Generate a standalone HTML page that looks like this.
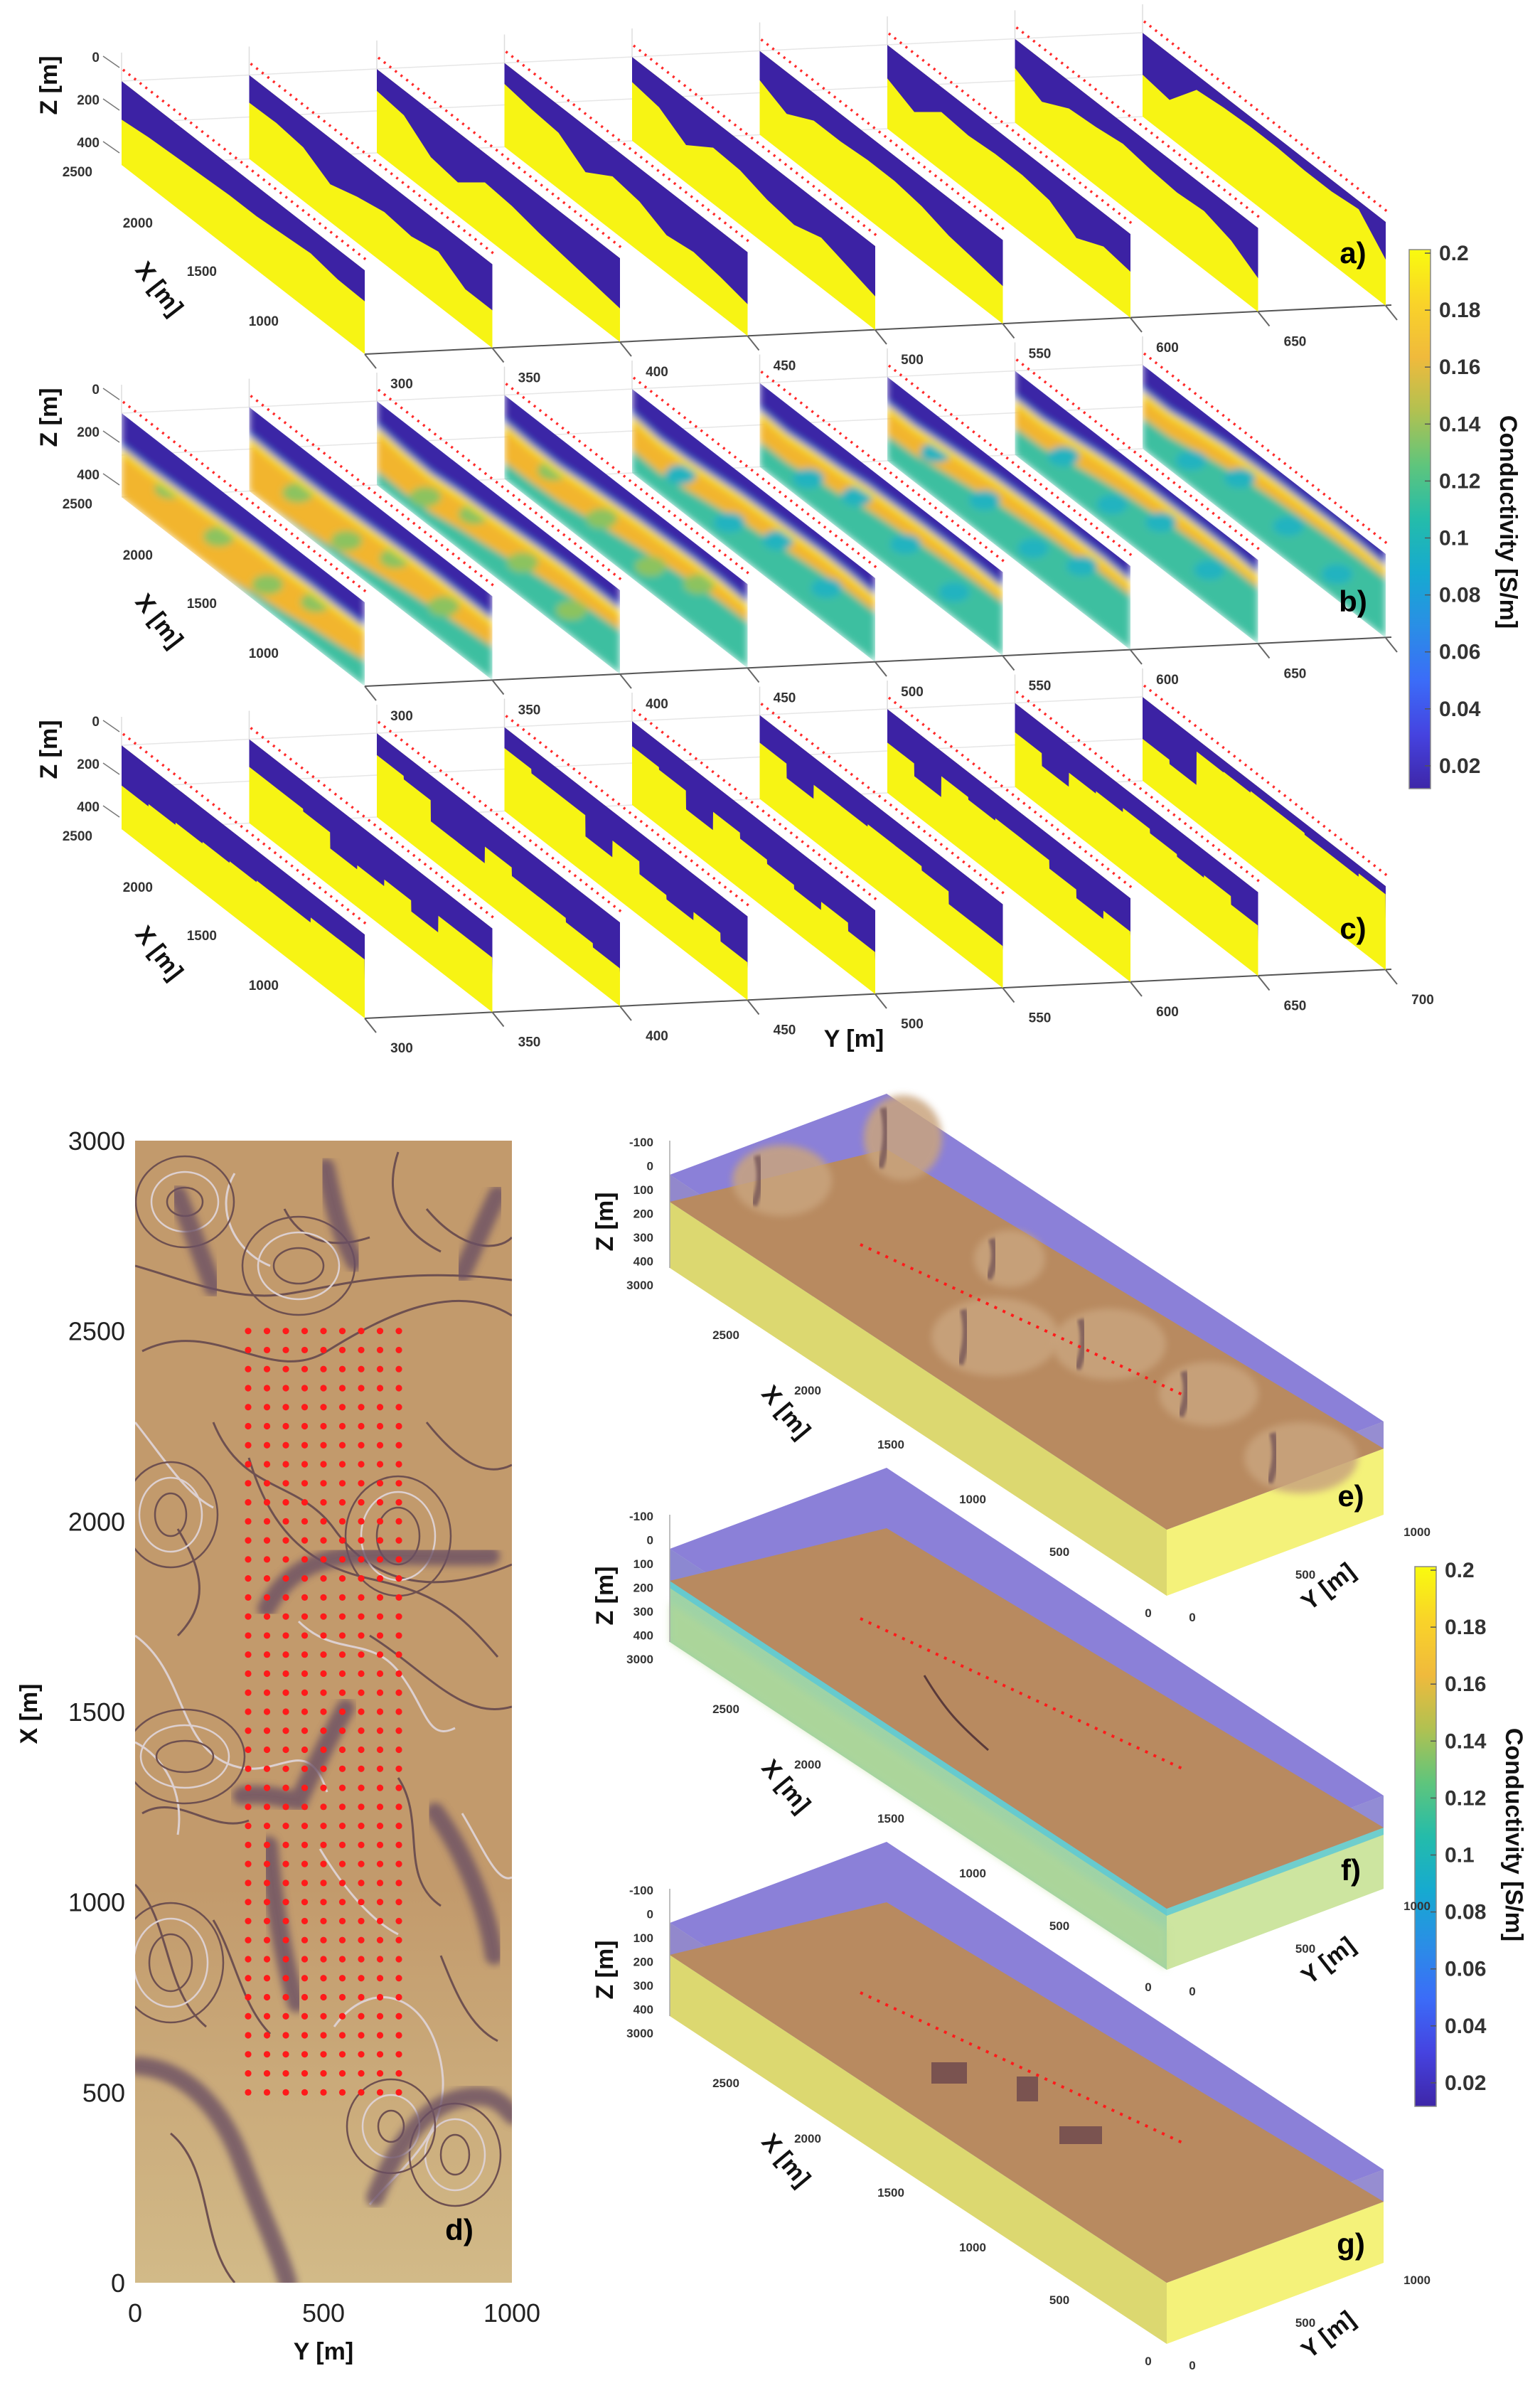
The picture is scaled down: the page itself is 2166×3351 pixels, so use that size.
<!DOCTYPE html>
<html><head><meta charset="utf-8">
<style>
html,body{margin:0;padding:0;background:#fff;}
svg{display:block;font-family:"Liberation Sans",sans-serif;}
.tk{font-size:19px;font-weight:bold;fill:#333;}
.tk2{font-size:17px;font-weight:bold;fill:#333;}
.ax{font-size:34px;font-weight:bold;fill:#111;}
.pl{font-size:42px;font-weight:bold;fill:#000;}
.cb{font-size:30px;font-weight:bold;fill:#333;}
.dl{font-size:36px;fill:#222;}
</style></head>
<body>
<svg id="fig" width="2166" height="3351" viewBox="0 0 2166 3351" xmlns="http://www.w3.org/2000/svg">
<defs>
<linearGradient id="parula" x1="0" y1="1" x2="0" y2="0">
<stop offset="0" stop-color="#3e26a8"/><stop offset="0.1" stop-color="#4543e0"/><stop offset="0.2" stop-color="#3b6cf8"/>
<stop offset="0.3" stop-color="#2a8ee6"/><stop offset="0.4" stop-color="#16aad0"/><stop offset="0.5" stop-color="#24bcaa"/>
<stop offset="0.6" stop-color="#5fc57c"/><stop offset="0.7" stop-color="#b1c151"/><stop offset="0.8" stop-color="#f0ba3c"/>
<stop offset="0.9" stop-color="#f9d329"/><stop offset="1" stop-color="#f9fb0e"/>
</linearGradient>
<linearGradient id="mapLight" x1="0" y1="0" x2="0" y2="1">
<stop offset="0" stop-color="#d2ba88" stop-opacity="0"/><stop offset="1" stop-color="#d2ba88" stop-opacity="1"/>
</linearGradient>
<filter id="blur4"><feGaussianBlur stdDeviation="5"/></filter>
<filter id="blur2"><feGaussianBlur stdDeviation="2"/></filter>
<filter id="blur8"><feGaussianBlur stdDeviation="8"/></filter>
</defs>
<g id="topSlices"></g>
<g id="mapd"></g>
<g id="boxes"></g>
</svg>
<script>
var NS="http://www.w3.org/2000/svg";
// ---------- data ----------
var yTicksTop=[300,350,400,450,500,550,600,650];
var yTicksC=[300,350,400,450,500,550,600,650,700];
var zTicks=["0","200","400","2500"];
var xTicks=["2000","1500","1000"];
var profA=[
[0.46,0.42,0.4,0.38,0.36,0.36,0.33,0.3,0.36,0.37],
[0.33,0.32,0.36,0.55,0.45,0.38,0.42,0.35,0.55,0.55],
[0.26,0.3,0.55,0.6,0.35,0.38,0.45,0.5,0.55,0.6],
[0.25,0.3,0.33,0.55,0.35,0.4,0.55,0.5,0.55,0.62],
[0.3,0.35,0.55,0.33,0.35,0.45,0.5,0.4,0.5,0.6],
[0.35,0.5,0.33,0.33,0.3,0.3,0.35,0.45,0.5,0.55],
[0.4,0.55,0.3,0.33,0.3,0.3,0.35,0.55,0.4,0.45],
[0.35,0.5,0.33,0.3,0.25,0.3,0.33,0.3,0.4,0.6],
[0.5,0.55,0.18,0.14,0.12,0.12,0.14,0.14,0.1,0.45]];
var profB=[
[0.38,0.38,0.36,0.34,0.32,0.3,0.3,0.28,0.28,0.27],
[0.32,0.33,0.33,0.32,0.3,0.28,0.26,0.25,0.25,0.25],
[0.28,0.32,0.34,0.3,0.28,0.25,0.22,0.2,0.2,0.2],
[0.3,0.32,0.32,0.28,0.25,0.22,0.2,0.18,0.18,0.2],
[0.28,0.32,0.3,0.26,0.22,0.2,0.18,0.16,0.16,0.18],
[0.3,0.32,0.28,0.25,0.2,0.18,0.16,0.15,0.15,0.16],
[0.3,0.3,0.26,0.22,0.18,0.16,0.14,0.14,0.13,0.15],
[0.3,0.3,0.25,0.2,0.16,0.14,0.13,0.12,0.12,0.14],
[0.28,0.28,0.22,0.17,0.14,0.12,0.11,0.1,0.1,0.12]];
var tealB=[0.85,0.7,0.55,0.5,0.45,0.4,0.4,0.38,0.35];
var profC=[
[0.48,0.45,0.42,0.4,0.38,0.36,0.36,0.3,0.3,0.55],
[0.33,0.33,0.36,0.55,0.5,0.42,0.55,0.35,0.35,0.55],
[0.26,0.3,0.55,0.55,0.35,0.45,0.45,0.5,0.55,0.6],
[0.25,0.3,0.3,0.55,0.35,0.5,0.55,0.45,0.55,0.62],
[0.3,0.33,0.55,0.33,0.4,0.45,0.5,0.4,0.5,0.6],
[0.33,0.5,0.33,0.33,0.3,0.3,0.35,0.5,0.5,0.55],
[0.4,0.55,0.3,0.33,0.3,0.3,0.4,0.5,0.4,0.45],
[0.35,0.5,0.33,0.3,0.25,0.3,0.33,0.3,0.4,0.6],
[0.5,0.55,0.15,0.14,0.12,0.12,0.14,0.14,0.1,0.4]];
var cbTicks=["0.2","0.18","0.16","0.14","0.12","0.1","0.08","0.06","0.04","0.02"];
var dXTicks=[0,500,1000,1500,2000,2500,3000];
var dYTicks=[0,500,1000];
var dotY=[300,350,400,450,500,550,600,650,700];
var dotX=[500,550,600,650,700,750,800,850,900,950,1000,1050,1100,1150,1200,1250,1300,1350,1400,1450,1500,1550,1600,1650,1700,1750,1800,1850,1900,1950,2000,2050,2100,2150,2200,2250,2300,2350,2400,2450,2500];
var boxZTicks=["-100","0","100","200","300","400","3000"];
var boxXTicks=["2500","2000","1500","1000","500"];
var boxYTicks=["0","500","1000"];

function mk(tag,attrs,parent,text){var e=document.createElementNS(NS,tag);for(var k in attrs)e.setAttribute(k,attrs[k]);if(text!==undefined)e.textContent=text;parent.appendChild(e);return e;}
function pts(a){return a.map(function(p){return p[0].toFixed(1)+","+p[1].toFixed(1)}).join(" ");}
function dn(p,d){return [p[0],p[1]+d];}

// ---------- panels a,b,c ----------
var topG=document.getElementById('topSlices');
var SW=342,SD=266,SH=118;
function sx0(i){return 171+i*179.5;}
function sy0(i,row){return 114-i*8.5+row*467;}
function P(i,row,u,v){return [sx0(i)+u*SW, sy0(i,row)+u*SD+v*SH];}
var rowNames=["a","b","c"];
for(var row=0;row<3;row++){
  var g=mk('g',{},topG);
  
  
  var nS=9;
  var ax=mk('line',{x1:P(0,row,1,1)[0],y1:P(0,row,1,1)[1],x2:P(8,row,1,1)[0]+8,y2:P(8,row,1,1)[1]-1,stroke:'#555','stroke-width':2},g);
  
  
  for(var gz=0;gz<3;gz++){
    var gl=mk('line',{x1:P(0,row,0,gz*0.5)[0],y1:P(0,row,0,gz*0.5)[1],x2:P(8,row,0,gz*0.5)[0],y2:P(8,row,0,gz*0.5)[1],stroke:'#e6e6e6','stroke-width':1.5},g);
    
    
  }
  for(var i=0;i<nS;i++){
    var sg=mk('g',{},g);
    
    
    var outline=[P(i,row,0,0),P(i,row,1,0),P(i,row,1,1),P(i,row,0,1)];
    var cid='clip'+row+'_'+i;
    var cp=mk('clipPath',{id:cid},sg);mk('polygon',{points:pts(outline)},cp);
    var inner=mk('g',{'clip-path':'url(#'+cid+')'},sg);
    var n=10;
    if(row===0||row===2){
      mk('polygon',{points:pts(outline),fill:'#f7f414'},inner);
      var pr=row===0?profA[i]:profC[i];
      var bl=[];for(var k=0;k<n;k++)bl.push(P(i,row,k/(n-1),0));
      for(var k=n-1;k>=0;k--){
        var u=k/(n-1);
        if(row===2&&k<n-1){bl.push(P(i,row,(k+1)/(n-1)-0.001,pr[k]));}
        bl.push(P(i,row,u,pr[k]));
      }
      var bp=mk('polygon',{points:pts(bl),fill:'#3c22a4'},inner);
      
      
    } else {
      var bg=mk('g',{filter:'url(#blur4)'},inner);
      mk('polygon',{points:pts(outline),fill:'#3cbfa0'},bg);
      var pr=profB[i];
      var oz=[];for(var k=0;k<n;k++)oz.push(P(i,row,k/(n-1),0));
      for(var k=n-1;k>=0;k--){var u=k/(n-1);oz.push(P(i,row,u,Math.min(1,pr[k]+tealB[i]*(1-u*0.5))));}
      mk('polygon',{points:pts(oz),fill:'#f2b52e'},bg);
      for(var b=0;b<4;b++){
        var c=P(i,row,0.2+0.2*b,0.45+0.12*((b+i)%3));
        mk('ellipse',{cx:c[0],cy:c[1],rx:22,ry:14,fill:(i>3?'#22b3c0':'#8cc35e')},bg);
      }
      var yz=[];for(var k=0;k<n;k++)yz.push(P(i,row,k/(n-1),0));
      for(var k=n-1;k>=0;k--){yz.push(P(i,row,k/(n-1),pr[k]+0.12));}
      mk('polygon',{points:pts(yz),fill:'#f8dc24'},bg);
      var bz=[];for(var k=0;k<n;k++)bz.push(P(i,row,k/(n-1),0));
      for(var k=n-1;k>=0;k--){bz.push(P(i,row,k/(n-1),pr[k]+0.03));}
      mk('polygon',{points:pts(bz),fill:'#3f7ee8'},bg);
      var bz2=[];for(var k=0;k<n;k++)bz2.push(P(i,row,k/(n-1),-0.1));
      for(var k=n-1;k>=0;k--){bz2.push(P(i,row,k/(n-1),pr[k]-0.02));}
      var bp=mk('polygon',{points:pts(bz2),fill:'#3b25a6'},bg);
      
      
    }
    var a0=P(i,row,0,0),a1=P(i,row,1,0);
    var rl=mk('line',{x1:a0[0]+2,y1:a0[1]-16,x2:a1[0]+3,y2:a1[1]-14,stroke:'#ff2a2a','stroke-width':3.5,'stroke-dasharray':'3 7'},sg);
    
    
    var br=P(i,row,1,1);
    var tkl=mk('line',{x1:br[0],y1:br[1],x2:br[0]+16,y2:br[1]+20,stroke:'#666','stroke-width':2},sg);
    
    
    var vl=mk('line',{x1:a0[0],y1:a0[1]-40,x2:a0[0],y2:a0[1],stroke:'#ddd','stroke-width':1.5},sg);
    
    
  }
  var labs=row===2?yTicksC:yTicksTop;
  for(var i=0;i<labs.length;i++){
    var br=P(i,row,1,1);
    var t=mk('text',{x:br[0]+52,y:br[1]+48,'text-anchor':'middle','class':'tk'},g,String(labs[i]));
    
    
  }
  var zy=[87,147,207,248];var zx=[140,140,140,130];
  for(var k=0;k<zTicks.length;k++){
    var t=mk('text',{x:zx[k],y:zy[k]+row*467,'text-anchor':'end','class':'tk'},g,zTicks[k]);
    
    
    if(k<3){var l=mk('line',{x1:zx[k]+5,y1:zy[k]-8+row*467,x2:zx[k]+28,y2:zy[k]+8+row*467,stroke:'#777','stroke-width':1.5},g);
      
      }
  }
  var xy=[[215,320],[305,388],[392,458]];
  for(var k=0;k<3;k++){
    var t=mk('text',{x:xy[k][0],y:xy[k][1]+row*467,'text-anchor':'end','class':'tk'},g,xTicks[k]);
    
    
  }
  var zt=mk('text',{x:0,y:0,'class':'ax',transform:'translate(80,'+(120+row*467)+') rotate(-90)','text-anchor':'middle'},g,'Z [m]');
  
  
  var xt=mk('text',{x:0,y:0,'class':'ax',transform:'translate(215,'+(413+row*467)+') rotate(52)','text-anchor':'middle'},g,'X [m]');
  
  
  var pl=mk('text',{x:1903,y:[370,860,1320][row],'class':'pl','text-anchor':'middle'},g,rowNames[row]+')');
  
  
}
var yt=mk('text',{x:1201,y:1472,'class':'ax','text-anchor':'middle'},topG,'Y [m]');



function colorbar(x,y0,y1,tickTop,tickStep,labelY){
  var g=mk('g',{},topG);
  
  
  var r=mk('rect',{x:x,y:y0,width:30,height:y1-y0,fill:'url(#parula)',stroke:'#888','stroke-width':1.5},g);
  
  
  for(var k=0;k<cbTicks.length;k++){
    var ty=tickTop+k*tickStep;
    var tl=mk('line',{x1:x+22,y1:ty,x2:x+30,y2:ty,stroke:'#555','stroke-width':1.5},g);
    
    
    var t=mk('text',{x:x+42,y:ty+10,'class':'cb'},g,cbTicks[k]);
    
    
  }
  var ct=mk('text',{x:0,y:0,'class':'ax',transform:'translate('+(x+128)+','+labelY+') rotate(90)','text-anchor':'middle'},g,'Conductivity [S/m]');
  
  
}
colorbar(1982,351,1109,356,80.1,734);
colorbar(1990,2203,2962,2208,80.1,2580);

// ---------- panel d ----------
var md=document.getElementById('mapd');


var mL=190,mR=720,mT=1604,mB=3210;
function mxY(y){return mL+(y/1000)*(mR-mL);}
function myX(x){return mB-(x/3000)*(mB-mT);}
var cpm=mk('clipPath',{id:'mclip'},md);mk('rect',{x:mL,y:mT,width:mR-mL,height:mB-mT},cpm);
var mg=mk('g',{'clip-path':'url(#mclip)'},md);
var bgr=mk('rect',{x:mL,y:mT,width:mR-mL,height:mB-mT,fill:'#c29a6c'},mg);


mk('rect',{x:mL,y:2650,width:mR-mL,height:560,fill:'url(#mapLight)'},mg);
var thin=["M200 1900 C300 1850 380 1950 460 1900 S640 1800 720 1850","M300 2000 C340 2100 420 2080 470 2150 S600 2250 720 2200",
"M190 2300 C260 2350 250 2450 320 2480 S430 2430 460 2520","M520 2300 C600 2350 650 2420 720 2400","M190 2650 C240 2700 230 2800 290 2850",
"M470 2850 C520 2780 600 2800 620 2900 S560 3050 520 3100","M240 3000 C300 3050 280 3150 330 3210","M600 1700 C650 1760 700 1760 720 1740",
"M330 1650 C300 1700 330 1760 380 1780","M250 2150 C280 2200 300 2250 250 2300","M560 2500 C600 2560 560 2640 620 2680",
"M420 2280 C470 2330 520 2300 560 2350 S600 2450 640 2430","M200 2550 C250 2520 300 2580 350 2560",
"M190 1780 C260 1800 330 1830 400 1820 S560 1780 720 1800","M190 2000 C230 2050 260 2100 300 2120","M560 1620 C540 1680 560 1730 620 1760",
"M350 2050 C380 2150 430 2200 520 2220 S640 2260 700 2330","M450 2600 C480 2650 520 2700 560 2720","M300 2700 C330 2750 340 2820 380 2860",
"M620 2750 C640 2800 660 2850 700 2870","M190 2450 C230 2470 260 2520 250 2580","M600 2000 C640 2050 680 2080 720 2060",
"M400 1700 C420 1740 460 1760 520 1740","M650 2550 C680 2600 700 2650 720 2640"];
for(var k=0;k<thin.length;k++){
  var p=mk('path',{d:thin[k],fill:'none',stroke:(k%3===2?'#ddd0d0':'#6e5050'),'stroke-width':3},mg);
  
  
}
var rings=[[240,2130,22,30],[260,1690,25,20],[560,2160,30,40],[260,2470,40,22],[640,3030,20,28],[550,2990,18,22],[240,2760,30,40],[420,1780,35,25]];
for(var k=0;k<rings.length;k++){
  for(var m=0;m<3;m++){
    var e=mk('ellipse',{cx:rings[k][0],cy:rings[k][1],rx:rings[k][2]+m*22,ry:rings[k][3]+m*22,fill:'none',stroke:(m%2?'#ddd0d0':'#6e5050'),'stroke-width':2.5},mg);
    
    
  }
}
var thick=["M250 1680 C270 1730 285 1770 300 1810","M458 1642 C470 1700 480 1740 500 1775","M700 1680 C680 1720 665 1760 650 1790",
"M375 2262 C400 2215 440 2190 500 2188 S620 2190 690 2188","M340 2525 C370 2520 400 2530 420 2532 C440 2490 465 2440 486 2402",
"M378 2595 C385 2680 400 2760 417 2817","M612 2548 C650 2600 685 2680 695 2750","M194 2905 C260 2910 310 2960 340 3040 S390 3160 405 3210",
"M528 3090 C560 3010 600 2960 650 2950 S710 2965 722 2975"];
for(var k=0;k<thick.length;k++){
  var p=mk('path',{d:thick[k],fill:'none',stroke:'#6b5063','stroke-width':26,'stroke-linecap':'round',opacity:0.8,filter:'url(#blur4)'},mg);
  
  
}
var dg=mk('g',{},md);


for(var a=0;a<dotX.length;a++)for(var b=0;b<dotY.length;b++){
  var c=mk('circle',{cx:mxY(dotY[b]),cy:myX(dotX[a]),r:4.6,fill:'#ff1a1a'},dg);
  
  
}
for(var k=0;k<dXTicks.length;k++){
  var t=mk('text',{x:176,y:myX(dXTicks[k])+13,'text-anchor':'end','class':'dl'},md,String(dXTicks[k]));
  
  
}
for(var k=0;k<dYTicks.length;k++){
  var t=mk('text',{x:mxY(dYTicks[k]),y:3265,'text-anchor':'middle','class':'dl'},md,String(dYTicks[k]));
  
  
}
var t=mk('text',{x:455,y:3318,'text-anchor':'middle','class':'ax'},md,'Y [m]');


t=mk('text',{x:0,y:0,'class':'ax',transform:'translate(52,2410) rotate(-90)','text-anchor':'middle'},md,'X [m]');


t=mk('text',{x:646,y:3150,'text-anchor':'middle','class':'pl'},md,'d)');



// ---------- panels e,f,g ----------
var bx=document.getElementById('boxes');
var boxNames=["e","f","g"];
var sideCols=[["#dcd870","#f4f27a"],["#9fd3a6","#cde5a0"],["#dcd870","#f4f27a"]];
for(var q=0;q<3;q++){
  var oy=q*526;
  var g=mk('g',{},bx);
  
  
  var A=[942,1652+oy],B=[1247,1538+oy],C=[1946,1999+oy],D=[A[0]+C[0]-B[0],A[1]+C[1]-B[1]];
  var h=131,s=q===0?38:45;
  var lf=mk('polygon',{points:pts([A,D,dn(D,h),dn(A,h)]),fill:sideCols[q][0]},g);
  
  
  var ff=mk('polygon',{points:pts([D,C,dn(C,h),dn(D,h)]),fill:sideCols[q][1]},g);
  
  
  if(q===1){
    mk('polygon',{points:pts([dn(A,s),dn(D,s),dn(D,s+10),dn(A,s+10)]),fill:'#58c8d8',opacity:0.8},g);
    mk('polygon',{points:pts([dn(D,s),dn(C,s),dn(C,s+10),dn(D,s+10)]),fill:'#58c8d8',opacity:0.8},g);
    mk('polygon',{points:pts([dn(A,s+30),dn(D,s+30),dn(D,h),dn(A,h)]),fill:'#b8d890',opacity:0.5,filter:'url(#blur4)'},g);
  }
  mk('polygon',{points:pts([A,D,dn(D,s),dn(A,s)]),fill:'#8a7fd6',opacity:0.9},g);
  mk('polygon',{points:pts([D,C,dn(C,s),dn(D,s)]),fill:'#8c82da',opacity:0.9},g);
  var tp=mk('polygon',{points:pts([A,B,C,D]),fill:'#8b80d8'},g);
  
  
  var sf=mk('polygon',{points:pts([dn(A,s),[B[0],B[1]+s+40],[C[0],C[1]+s],dn(D,s)]),fill:'#b88a60'},g);
  
  
  if(q===0){
    var hills=[[1100,1660,70,50],[1270,1600,55,60],[1420,1770,50,40],[1400,1880,90,55],[1560,1890,80,50],[1700,1960,70,45],[1830,2050,80,50]];
    for(var k=0;k<hills.length;k++){
      var e=mk('ellipse',{cx:hills[k][0],cy:hills[k][1],rx:hills[k][2],ry:hills[k][3],fill:'#c9a47e',opacity:0.85,filter:'url(#blur4)'},g);
      
      
      var sh=mk('path',{d:'M'+(hills[k][0]-hills[k][2]*0.5)+' '+(hills[k][1]-hills[k][3]*0.7)+' q 10 '+(hills[k][3]*0.7)+' '+(-5)+' '+(hills[k][3]*1.4),fill:'none',stroke:'#6e4f55','stroke-width':10,opacity:0.75,filter:'url(#blur2)'},g);
      
      
    }
  } else if(q===1){
    var cr=mk('path',{d:'M1300 '+(1830+oy)+' C1330 '+(1880+oy)+' 1350 '+(1900+oy)+' 1390 '+(1935+oy),fill:'none',stroke:'#5a3a3a','stroke-width':3},g);
    
    
  } else {
    var blk=[[1310,2900,50,30],[1430,2920,30,35],[1490,2990,60,25]];
    for(var k=0;k<blk.length;k++){
      var r=mk('rect',{x:blk[k][0],y:blk[k][1],width:blk[k][2],height:blk[k][3],fill:'#7a5350'},g);
      
      
    }
  }
  var rl=mk('line',{x1:1210,y1:1750+oy,x2:1665,y2:1962+oy,stroke:'#ff1a1a','stroke-width':4,'stroke-dasharray':'4 9'},g);
  
  
  var zl=mk('line',{x1:A[0],y1:1604+oy,x2:A[0],y2:A[1]+h,stroke:'#aaa','stroke-width':1.5},g);
  
  
  for(var k=0;k<boxZTicks.length;k++){
    var ty=1606+oy+k*33.5;
    var t=mk('text',{x:919,y:ty+6,'text-anchor':'end','class':'tk2'},g,boxZTicks[k]);
    
    
  }
  var t=mk('text',{x:0,y:0,'class':'ax',transform:'translate(862,'+(1718+oy)+') rotate(-90)','text-anchor':'middle'},g,'Z [m]');
  
  
  var xpos=[[1021,1883],[1136,1961],[1253,2037],[1368,2114],[1490,2188]];
  for(var k=0;k<boxXTicks.length;k++){
    t=mk('text',{x:xpos[k][0],y:xpos[k][1]+oy,'text-anchor':'middle','class':'tk2'},g,boxXTicks[k]);
    
    
  }
  var ypos=[[1677,2280],[1836,2220],[1993,2160]];
  for(var k=0;k<boxYTicks.length;k++){
    t=mk('text',{x:ypos[k][0],y:ypos[k][1]+oy,'text-anchor':'middle','class':'tk2'},g,boxYTicks[k]);
    
    
  }
  t=mk('text',{x:1615,y:2274+oy,'text-anchor':'middle','class':'tk2'},g,'0');
  
  
  t=mk('text',{x:0,y:0,'class':'ax',transform:'translate(1097,'+(1993+oy)+') rotate(50)','text-anchor':'middle'},g,'X [m]');
  
  
  t=mk('text',{x:0,y:0,'class':'ax',transform:'translate(1875,'+(2240+oy)+') rotate(-38)','text-anchor':'middle'},g,'Y [m]');
  
  
  t=mk('text',{x:1900,y:2118+oy,'text-anchor':'middle','class':'pl'},g,boxNames[q]+')');
  
  
}
</script>
</body></html>
